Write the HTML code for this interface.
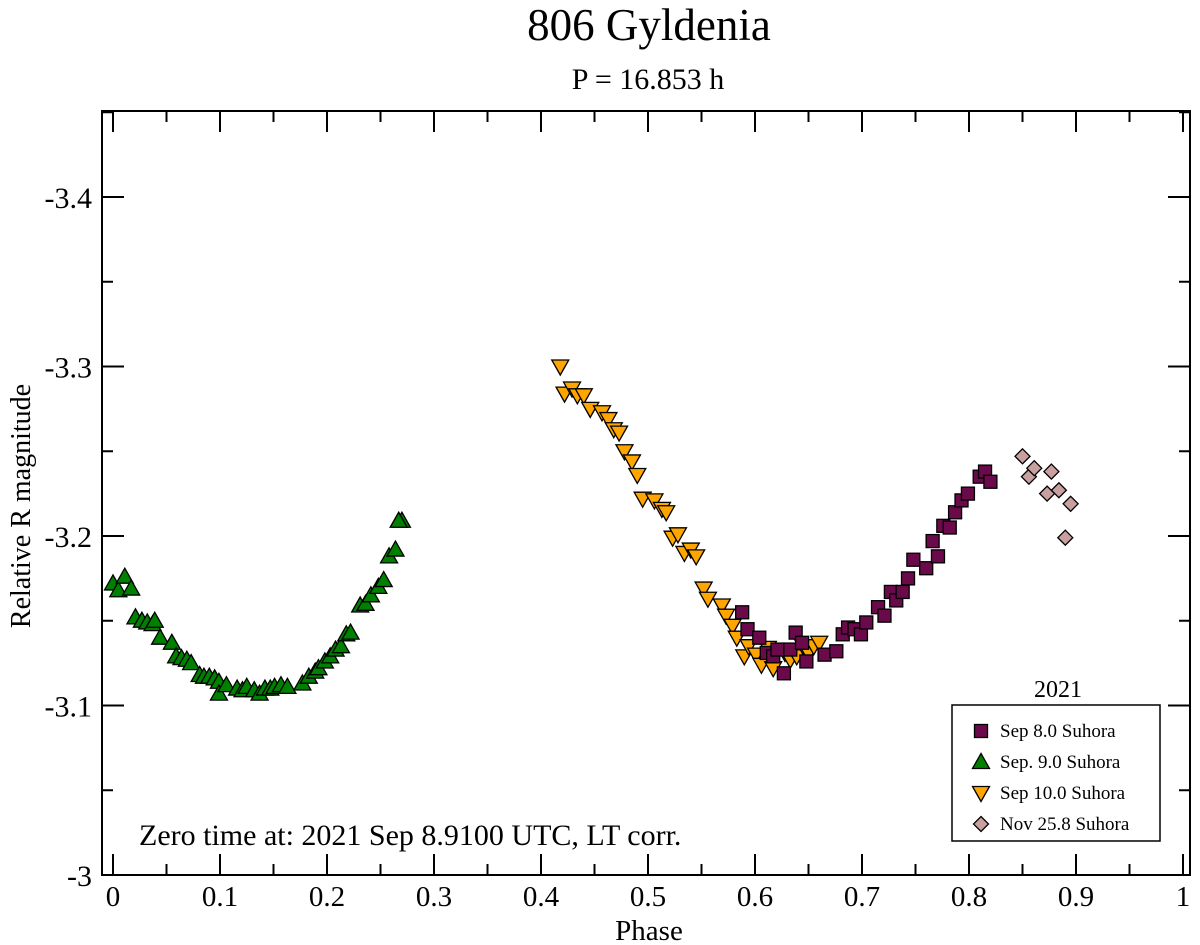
<!DOCTYPE html>
<html><head><meta charset="utf-8"><style>
body{margin:0;background:#fff;}
svg{display:block;font-family:"Liberation Serif",serif;}
</style></head><body>
<svg id="chart" width="1200" height="945" viewBox="0 0 1200 945">
<text x="649" y="40" font-size="45" text-anchor="middle">806 Gyldenia</text>
<text x="648" y="89" font-size="30" text-anchor="middle">P = 16.853 h</text>
<text transform="translate(30,506) rotate(-90)" font-size="28" text-anchor="middle">Relative R magnitude</text>
<text x="649" y="940" font-size="29" text-anchor="middle">Phase</text>
<text x="139" y="845" font-size="30">Zero time at: 2021 Sep 8.9100 UTC, LT corr.</text>
<g id="ticks"></g>
<g id="marks"></g>
<rect x="102" y="111" width="1088" height="764" fill="none" stroke="#000" stroke-width="2"/>
<text x="1058" y="697" font-size="24" text-anchor="middle">2021</text>
<rect x="952" y="705" width="208" height="136" fill="#fff" stroke="#000" stroke-width="1.5"/>
<g id="legend"></g>
</svg>
<script>
const xTicks=[0,0.1,0.2,0.3,0.4,0.5,0.6,0.7,0.8,0.9,1];
const xTickLabels=["0","0.1","0.2","0.3","0.4","0.5","0.6","0.7","0.8","0.9","1"];
const yTicks=[-3,-3.1,-3.2,-3.3,-3.4];
const yTickLabels=["-3","-3.1","-3.2","-3.3","-3.4"];
const seriesNames=["Sep 8.0 Suhora","Sep. 9.0 Suhora","Sep 10.0 Suhora","Nov 25.8 Suhora"];
const sep8Phase=[0.588,0.593,0.604,0.611,0.617,0.621,0.627,0.633,0.638,0.644,0.648,0.665,0.676,0.682,0.687,0.693,0.699,0.704,0.715,0.721,0.727,0.732,0.738,0.743,0.748,0.760,0.771,0.766,0.776,0.782,0.787,0.793,0.799,0.810,0.815,0.820];
const sep8Mag=[-3.155,-3.145,-3.140,-3.131,-3.129,-3.133,-3.119,-3.133,-3.143,-3.137,-3.126,-3.130,-3.132,-3.142,-3.146,-3.145,-3.142,-3.149,-3.158,-3.153,-3.167,-3.162,-3.167,-3.175,-3.186,-3.181,-3.188,-3.197,-3.206,-3.205,-3.214,-3.221,-3.225,-3.235,-3.238,-3.232];
const sep9Phase=[0.000,0.005,0.011,0.017,0.021,0.027,0.032,0.037,0.039,0.044,0.055,0.059,0.064,0.069,0.073,0.081,0.085,0.090,0.095,0.099,0.099,0.106,0.116,0.121,0.125,0.132,0.137,0.142,0.147,0.151,0.157,0.163,0.177,0.183,0.189,0.192,0.198,0.203,0.208,0.213,0.218,0.222,0.231,0.236,0.241,0.248,0.253,0.258,0.264,0.270,0.267];
const sep9Mag=[-3.172,-3.168,-3.176,-3.169,-3.152,-3.150,-3.149,-3.148,-3.150,-3.140,-3.137,-3.129,-3.128,-3.127,-3.125,-3.118,-3.117,-3.117,-3.116,-3.114,-3.107,-3.112,-3.110,-3.109,-3.111,-3.109,-3.107,-3.110,-3.110,-3.111,-3.112,-3.111,-3.113,-3.117,-3.120,-3.122,-3.126,-3.129,-3.133,-3.135,-3.142,-3.143,-3.159,-3.160,-3.165,-3.170,-3.174,-3.188,-3.192,-3.209,-3.209];
const sep10Phase=[0.418,0.422,0.429,0.434,0.440,0.446,0.457,0.463,0.468,0.473,0.478,0.485,0.490,0.495,0.506,0.513,0.517,0.523,0.528,0.534,0.540,0.545,0.552,0.556,0.569,0.573,0.579,0.583,0.590,0.594,0.601,0.606,0.612,0.617,0.628,0.633,0.639,0.645,0.650,0.655,0.660];
const sep10Mag=[-3.300,-3.284,-3.287,-3.283,-3.283,-3.275,-3.273,-3.269,-3.263,-3.261,-3.250,-3.244,-3.236,-3.222,-3.221,-3.216,-3.214,-3.199,-3.201,-3.190,-3.192,-3.188,-3.169,-3.163,-3.159,-3.153,-3.147,-3.140,-3.129,-3.135,-3.130,-3.124,-3.134,-3.122,-3.131,-3.127,-3.129,-3.135,-3.131,-3.135,-3.137];
const nov25Phase=[0.850,0.856,0.861,0.877,0.873,0.884,0.895,0.890];
const nov25Mag=[-3.247,-3.235,-3.240,-3.238,-3.225,-3.227,-3.219,-3.199];

const NS="http://www.w3.org/2000/svg";
const X=p=>113+p*1070;
const Y=m=>875+(m+3)*1695;
function mk(tag,attrs,parent){const e=document.createElementNS(NS,tag);for(const k in attrs)e.setAttribute(k,attrs[k]);parent.appendChild(e);return e;}
const tg=document.getElementById('ticks');
xTicks.forEach((t,i)=>{
  const x=X(t);
  let l=mk('line',{x1:x,x2:x,y1:875,y2:854,stroke:'#000','stroke-width':2},tg);
  
  
  l=mk('line',{x1:x,x2:x,y1:111,y2:132,stroke:'#000','stroke-width':2},tg);
  
  
  if(i<xTicks.length-1){const xm=X(t+0.05);
    mk('line',{x1:xm,x2:xm,y1:875,y2:864,stroke:'#000','stroke-width':2},tg);
    mk('line',{x1:xm,x2:xm,y1:111,y2:122,stroke:'#000','stroke-width':2},tg);}
  const tx=mk('text',{x:x,y:906,'font-size':29,'text-anchor':'middle'},tg);
  tx.textContent=xTickLabels[i];
  
  
});
yTicks.forEach((t,i)=>{
  const y=Y(t);
  let l=mk('line',{x1:102,x2:124,y1:y,y2:y,stroke:'#000','stroke-width':2},tg);
  
  
  mk('line',{x1:1190,x2:1168,y1:y,y2:y,stroke:'#000','stroke-width':2},tg);
  const ym=Y(t-0.05);
  mk('line',{x1:102,x2:113,y1:ym,y2:ym,stroke:'#000','stroke-width':2},tg);
  mk('line',{x1:1190,x2:1179,y1:ym,y2:ym,stroke:'#000','stroke-width':2},tg);
  const tx=mk('text',{x:92,y:y+11,'font-size':30,'text-anchor':'end'},tg);
  tx.textContent=yTickLabels[i];
  
  
});
function marker(shape,x,y,fill,parent){
  const s=7.5;let pts;
  if(shape==='sq') return mk('rect',{x:x-s+1,y:y-s+1,width:2*s-2,height:2*s-2,fill:fill,stroke:'#000','stroke-width':1.3},parent);
  if(shape==='up') pts=[[x,y-s-1],[x+s+1,y+s-1],[x-s-1,y+s-1]];
  if(shape==='down') pts=[[x,y+s+1],[x+s+1,y-s+1],[x-s-1,y-s+1]];
  if(shape==='dia') pts=[[x,y-s],[x+s,y],[x,y+s],[x-s,y]];
  return mk('polygon',{points:pts.map(p=>p.join(',')).join(' '),fill:fill,stroke:'#000','stroke-width':1.3},parent);
}
const mg=document.getElementById('marks');
const series=[[sep9Phase,sep9Mag,'up','#008000','sep9-point'],[sep10Phase,sep10Mag,'down','#ffa500','sep10-point'],[sep8Phase,sep8Mag,'sq','#6b0a4a','sep8-point'],[nov25Phase,nov25Mag,'dia','#c9a0a0','nov25-point']];
series.forEach(s=>{
  s[0].forEach((p,i)=>{
    const e=marker(s[2],X(p),Y(s[1][i]),s[3],mg);
    
    
  });
});
const lg=document.getElementById('legend');
const legShapes=[['sq','#6b0a4a'],['up','#008000'],['down','#ffa500'],['dia','#c9a0a0']];
seriesNames.forEach((n,i)=>{
  const y=731+i*31;
  const e=marker(legShapes[i][0],981,y,legShapes[i][1],lg);
  
  
  const t=mk('text',{x:1000,y:y+6,'font-size':19},lg);
  t.textContent=n;
  
  
});
</script>
</body></html>
